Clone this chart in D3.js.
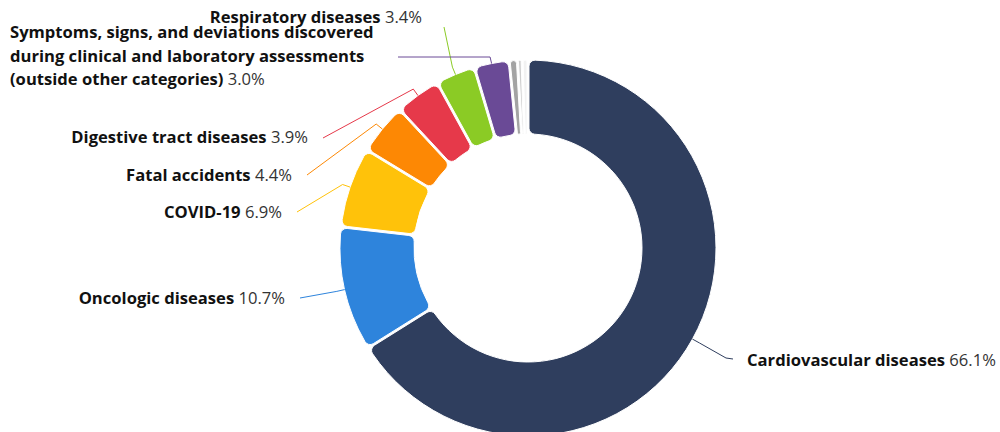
<!DOCTYPE html>
<html>
<head>
<meta charset="utf-8">
<script src="https://cdn.jsdelivr.net/npm/d3@7"></script>
<style>
  html, body { margin: 0; padding: 0; background: #fff; }
  svg { display: block; }
  text { font-family: "Open Sans", "Noto Sans", sans-serif; }
</style>
</head>
<body>
<svg id="chart" width="1000" height="432"></svg>
<script>
// ---- data ----
const categories = [
  "Cardiovascular diseases",
  "Oncologic diseases",
  "COVID-19",
  "Fatal accidents",
  "Digestive tract diseases",
  "Respiratory diseases",
  "Symptoms, signs, and deviations discovered during clinical and laboratory assessments (outside other categories)",
  "Other A",
  "Other B",
  "Other C"
];
const values = [66.1, 10.7, 6.9, 4.4, 3.9, 3.4, 3.0, 0.7, 0.4, 0.5];
const valueLabels = ["66.1%", "10.7%", "6.9%", "4.4%", "3.9%", "3.4%", "3.0%", "", "", ""];
const labelLines = [
  ["Cardiovascular diseases"],
  ["Oncologic diseases"],
  ["COVID-19"],
  ["Fatal accidents"],
  ["Digestive tract diseases"],
  ["Respiratory diseases"],
  ["Symptoms, signs, and deviations discovered", "during clinical and laboratory assessments", "(outside other categories)"],
  null, null, null
];

// ---- styles / layout ----
const colors = ["#2f3e5e", "#2e84dc", "#ffc20a", "#fd8804", "#e6394a", "#8bcb25", "#6a4a96", "#a3a3a3", "#cfcfcf", "#f2f2f2"];
const cx = 528, cy = 248, R = 188, r = 114;
const fontSize = 16.6;
// label layout: text anchor position, anchor type, connector start point near label, optional extra bend
const labelLayout = [
  { tx: 747, ty: 366, anchor: "start", lx: 733, ly: 359, bend: [726, 358] },
  { tx: 285, ty: 304, anchor: "end", lx: 300, ly: 298 },
  { tx: 282, ty: 218, anchor: "end", lx: 297, ly: 212 },
  { tx: 292, ty: 181, anchor: "end", lx: 307, ly: 175 },
  { tx: 308, ty: 143, anchor: "end", lx: 323, ly: 138 },
  { tx: 422, ty: 23, anchor: "end", lx: 444, ly: 27 },
  { tx: 10, ty: 38, anchor: "start", lx: 398, ly: 57, lineH: 23.5, horizontal: true },
  null, null, null
];

const svg = d3.select("#chart");
const g = svg.append("g").attr("transform", `translate(${cx},${cy})`);

const pie = d3.pie().sort(null).value(d => d).startAngle(0).endAngle(2 * Math.PI);
const arcs = pie(values);

const arc = d3.arc().innerRadius(r).outerRadius(R).cornerRadius(6).padAngle(0.009);
const edgeArc = d3.arc().innerRadius(R).outerRadius(R);
const kneeArc = d3.arc().innerRadius(R + 8).outerRadius(R + 8);

g.selectAll("path.slice")
  .data(arcs)
  .join("path")
  .attr("class", "slice")
  .attr("d", arc)
  .attr("fill", (d, i) => colors[i])
  .attr("stroke", "#fff")
  .attr("stroke-width", 1);

// connectors
const line = d3.line();
arcs.forEach((d, i) => {
  const L = labelLayout[i];
  if (!L) return;
  const edge = edgeArc.centroid(d);
  const knee = kneeArc.centroid(d);
  const pts = [];
  pts.push([L.lx - cx, L.ly - cy]);
  if (L.bend) pts.push([L.bend[0] - cx, L.bend[1] - cy]);
  if (L.horizontal) pts.push([knee[0], L.ly - cy]);
  else pts.push(knee);
  pts.push(edge);
  g.append("path")
    .attr("d", line(pts))
    .attr("fill", "none")
    .attr("stroke", colors[i])
    .attr("stroke-width", 1);
});

// labels
arcs.forEach((d, i) => {
  const L = labelLayout[i];
  if (!L) return;
  const lines = labelLines[i];
  const t = svg.append("text")
    .attr("x", L.tx)
    .attr("y", L.ty)
    .attr("text-anchor", L.anchor)
    .attr("font-size", fontSize);
  lines.forEach((ln, k) => {
    const last = k === lines.length - 1;
    const ts = t.append("tspan")
      .attr("font-weight", "bold")
      .attr("fill", "#111")
      .text(ln);
    if (k > 0) ts.attr("x", L.tx).attr("dy", L.lineH);
    if (last) {
      t.append("tspan")
        .attr("font-weight", "normal")
        .attr("fill", "#333")
        .text(" " + valueLabels[i]);
    }
  });
});
</script>
</body>
</html>
